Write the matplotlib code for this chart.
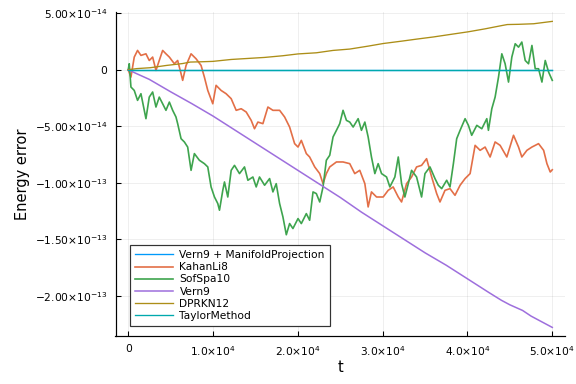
import matplotlib
matplotlib.use("Agg")
import matplotlib.pyplot as plt
import numpy as np

# ---- data (t in 1e3 units, energy error in 1e-14 units) ----
labels = ["Vern9 + ManifoldProjection", "KahanLi8", "SofSpa10", "Vern9", "DPRKN12", "TaylorMethod"]
colors = ["#009AFA", "#E36F47", "#3EA44E", "#9E6FDD", "#AC8E18", "#00A9AD"]

proj_t = [0.0, 50.0]
proj_e = [0.0, 0.0]

kahan_t = [0, 0.32, 0.71, 1.10, 1.50, 2.09, 2.48, 2.88, 3.27, 3.66, 4.06, 4.45, 4.85, 5.44, 5.83, 6.23,
           6.42, 6.82, 7.41, 8.00, 8.59, 8.98, 9.38, 9.97, 10.36, 10.95, 11.54, 12.14, 12.73, 13.32,
           13.91, 14.50, 14.89, 15.29, 15.88, 16.47, 17.06, 17.85, 18.44, 19.03, 19.62, 20.02, 20.41,
           21.00, 21.39, 21.99, 22.58, 22.97, 23.36, 23.76, 24.55, 25.33, 26.12, 26.71, 27.30, 27.90,
           28.29, 28.68, 29.28, 30.06, 30.65, 31.24, 31.84, 32.23, 32.82, 33.41, 34.00, 34.59, 35.18,
           35.78, 36.37, 36.76, 37.35, 37.94, 38.53, 39.13, 39.72, 40.31, 40.90, 41.49, 42.08, 42.67,
           43.26, 43.85, 44.64, 45.43, 46.02, 46.41, 47.01, 47.60, 48.38, 48.98, 49.37, 49.76, 50.00]
kahan_e = [0, -0.65, 1.12, 1.71, 1.27, 1.41, 0.82, 1.12, -0.06, 0.82, 1.71, 1.41, 1.12, 0.53, 0.82, -0.35,
           -0.94, 0.38, 1.41, 0.97, 0.38, -0.65, -1.83, -3.01, -1.38, -1.83, -2.12, -2.56, -3.59, -3.45,
           -3.74, -4.48, -5.22, -4.63, -4.77, -3.30, -3.59, -3.59, -4.18, -5.07, -6.54, -6.84, -6.25,
           -7.42, -7.72, -8.60, -9.19, -10.08, -9.19, -8.60, -8.16, -8.16, -8.31, -9.19, -8.90, -10.08,
           -12.14, -10.81, -11.26, -11.26, -10.67, -10.37, -11.26, -11.70, -10.08, -9.49, -8.60, -8.46, -7.87,
           -9.49, -10.96, -11.70, -10.67, -10.52, -11.11, -10.22, -9.63, -9.19, -6.69, -7.13, -6.84, -7.72,
           -6.39, -6.69, -7.72, -5.80, -6.84, -7.72, -7.13, -6.84, -6.54, -7.13, -8.31, -9.05, -8.85]

sof_t = [0, 0.12, 0.32, 0.71, 1.10, 1.50, 2.09, 2.48, 2.88, 3.27, 3.66, 4.06, 4.45, 4.85, 5.24, 5.63, 5.83,
         6.23, 6.62, 7.01, 7.41, 7.80, 8.39, 8.98, 9.38, 9.77, 10.17, 10.56, 10.76, 11.15, 11.35, 11.74,
         12.14, 12.53, 13.12, 13.71, 14.11, 14.70, 15.09, 15.48, 16.08, 16.67, 17.06, 17.45, 17.85, 18.24,
         18.64, 19.03, 19.42, 20.02, 20.41, 21.00, 21.39, 21.79, 22.18, 22.58, 22.97, 23.36, 23.76, 24.15,
         24.55, 24.94, 25.33, 25.73, 26.12, 26.52, 27.11, 27.50, 27.90, 28.29, 28.68, 29.08, 29.47, 29.87,
         30.46, 30.85, 31.44, 31.84, 32.23, 32.62, 33.02, 33.41, 34.00, 34.59, 34.99, 35.58, 36.17, 36.56,
         36.96, 37.55, 37.94, 38.34, 38.73, 39.13, 39.72, 40.11, 40.50, 41.10, 41.69, 42.28, 42.47, 42.87,
         43.26, 43.66, 44.05, 44.44, 44.84, 45.23, 45.63, 46.02, 46.41, 46.81, 47.20, 47.60, 47.99, 48.38,
         48.78, 49.17, 49.57, 50.00]
sof_e = [0, 0.53, -1.53, -1.83, -2.71, -2.12, -4.33, -2.42, -1.97, -3.30, -2.42, -3.01, -3.59, -2.86, -3.59,
         -4.18, -4.77, -6.10, -6.39, -6.84, -8.90, -7.42, -8.01, -8.31, -8.60, -10.37, -11.26, -11.84, -12.43,
         -10.67, -9.93, -11.26, -8.90, -8.46, -9.19, -8.60, -9.78, -9.49, -10.37, -9.49, -10.22, -9.63,
         -10.81, -10.08, -11.84, -13.02, -14.60, -13.61, -14.05, -13.17, -13.61, -12.73, -13.32, -10.81,
         -10.96, -11.70, -10.37, -8.01, -7.57, -5.95, -5.36, -4.77, -3.59, -4.48, -4.63, -5.07, -4.33, -5.36,
         -4.63, -5.95, -7.72, -9.19, -8.31, -9.19, -9.49, -10.37, -9.49, -7.72, -10.08, -11.26, -10.08, -8.90,
         -9.49, -11.26, -9.19, -8.60, -9.63, -10.22, -10.52, -9.78, -10.37, -8.31, -6.10, -5.36, -4.33, -4.92,
         -5.80, -4.92, -5.22, -4.33, -5.36, -3.45, -2.42, -0.65, 1.41, 0.53, -1.09, 1.12, 2.30, 2.00, 2.45,
         0.82, 0.53, 2.15, 0.09, 0.09, -1.09, 0.82, -0.21, -0.94]

vern_t = [0, 1.0, 2.48, 5.0, 7.5, 10.0, 12.5, 15.0, 17.5, 20.0, 22.5, 25.0, 27.5, 30.0, 32.5, 35.0, 37.5,
          40.0, 42.5, 44.0, 45.0, 46.5, 47.5, 50.0]
vern_e = [0, -0.35, -0.85, -1.95, -3.0, -4.1, -5.3, -6.5, -7.7, -8.9, -10.1, -11.3, -12.6, -13.8, -15.0,
          -16.2, -17.3, -18.5, -19.7, -20.4, -20.8, -21.3, -21.8, -22.8]

dprkn_t = [0, 1.0, 2.6, 4.5, 6.42, 7.3, 8.39, 9.97, 12.14, 14.11, 16.08, 18.24, 20.02, 22.18, 24.15, 26.12,
           28.29, 30.06, 32.23, 34.00, 35.97, 37.94, 40.11, 42.08, 44.05, 44.7, 46.02, 47.8, 50.00]
dprkn_e = [0, 0.10, 0.18, 0.38, 0.55, 0.68, 0.70, 0.74, 0.91, 1.00, 1.09, 1.24, 1.40, 1.50, 1.71, 1.83,
           2.09, 2.32, 2.53, 2.71, 2.90, 3.12, 3.36, 3.62, 3.91, 4.00, 4.02, 4.07, 4.28]

taylor_t = [0.0, 50.0]
taylor_e = [0.0, 0.0]

series = [(proj_t, proj_e), (kahan_t, kahan_e), (sof_t, sof_e), (vern_t, vern_e),
          (dprkn_t, dprkn_e), (taylor_t, taylor_e)]
widths = [1.0, 1.25, 1.25, 1.15, 1.0, 1.0]

x_ticks = [0, 10000, 20000, 30000, 40000, 50000]
x_ticklabels = ["0", r"$1.0{\times}10^{4}$", r"$2.0{\times}10^{4}$", r"$3.0{\times}10^{4}$",
                r"$4.0{\times}10^{4}$", r"$5.0{\times}10^{4}$"]
y_ticks = [5e-14, 0, -5e-14, -1e-13, -1.5e-13, -2e-13]
y_ticklabels = [r"$5.00{\times}10^{-14}$", "0", r"$\mathrm{-}5.00{\times}10^{-14}$",
                r"$\mathrm{-}1.00{\times}10^{-13}$", r"$\mathrm{-}1.50{\times}10^{-13}$",
                r"$\mathrm{-}2.00{\times}10^{-13}$"]

plt.rcParams['mathtext.fontset'] = 'dejavusans'
fig = plt.figure(figsize=(6, 4), dpi=96)
ax = fig.add_axes([115.5 / 576, 48 / 384, 449.5 / 576, 324 / 384])

for (t, e), lab, c, w in zip(series, labels, colors, widths):
    ax.plot(np.array(t) * 1e3, np.array(e) * 1e-14, color=c, lw=w, label=lab)

ax.set_xlim(-1500, 51500)
ax.set_ylim(-23.56e-14, 5.11e-14)
ax.set_xticks(x_ticks)
ax.set_xticklabels(x_ticklabels)
ax.set_yticks(y_ticks)
ax.set_yticklabels(y_ticklabels)
ax.tick_params(direction='in', length=3.5, width=0.8, labelsize=8, pad=6, color='black')
ax.grid(True, color='black', alpha=0.08, lw=0.6)
for s in ['top', 'right']:
    ax.spines[s].set_visible(False)
for s in ['left', 'bottom']:
    ax.spines[s].set_linewidth(0.9)
ax.set_xlabel("t", fontsize=11, labelpad=2)
ax.set_ylabel("Energy error", fontsize=11, labelpad=4)

leg = ax.legend(loc='lower left', bbox_to_anchor=(0.032, 0.032), fontsize=8, frameon=True,
                fancybox=False, edgecolor='#333333', framealpha=1.0, borderaxespad=0,
                labelspacing=0.2, handlelength=3.6, handletextpad=0.6, borderpad=0.45)
leg.get_frame().set_linewidth(0.9)

fig.savefig("out.png", dpi=96)
